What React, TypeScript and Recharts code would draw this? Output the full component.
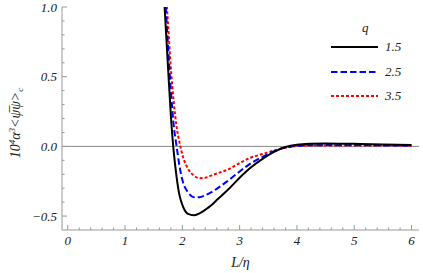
import { LineChart, Line, XAxis, YAxis, ReferenceLine } from "recharts";

// L/eta sample points shared by the three curves
const xs = [1.6, 1.65, 1.7, 1.75, 1.8, 1.85, 1.9, 1.95, 2.0, 2.1, 2.2, 2.3, 2.4, 2.5, 2.6, 2.8, 3.0, 3.2, 3.4, 3.6, 3.8, 4.0, 4.25, 4.5, 5.0, 5.5, 6.0];
const q15 = [1.65, 1.28, 0.93, 0.57, 0.22, -0.04, -0.22, -0.35, -0.42, -0.485, -0.495, -0.48, -0.455, -0.425, -0.385, -0.31, -0.225, -0.15, -0.09, -0.04, -0.005, 0.012, 0.019, 0.021, 0.018, 0.014, 0.01];
const q25 = [1.75, 1.42, 1.07, 0.72, 0.4, 0.15, 0.0, -0.14, -0.24, -0.33, -0.365, -0.365, -0.35, -0.33, -0.305, -0.245, -0.18, -0.12, -0.075, -0.035, -0.008, 0.004, 0.008, 0.009, 0.008, 0.007, 0.005];
const q35 = [1.9, 1.55, 1.2, 0.88, 0.56, 0.32, 0.14, 0.03, -0.06, -0.16, -0.21, -0.228, -0.225, -0.21, -0.195, -0.165, -0.12, -0.08, -0.055, -0.03, -0.01, 0.002, 0.006, 0.007, 0.007, 0.006, 0.005];
const qLabels = ["1.5", "2.5", "3.5"];

const xMajor = [0, 1, 2, 3, 4, 5, 6];
const yMajor = [-0.5, 0, 0.5, 1.0];

const rows = xs.map((x, i) => ({ x, a: q15[i], b: q25[i], c: q35[i] }));

const xTicks: number[] = [];
for (let i = 0; i <= 30; i++) xTicks.push(Math.round(i * 2) / 10);
const yTicks: number[] = [];
for (let i = -5; i <= 10; i++) yTicks.push(i / 10);

const frame = "#999";
const font = "Liberation Serif, DejaVu Serif, serif";
const txt = { fontFamily: font, fontStyle: "italic" as const, fontSize: 13 };

const isMajor = (v: number, list: number[]) => list.some((m) => Math.abs(m - v) < 1e-6);
const fmtY = (v: number) => (v < 0 ? "\u2212" : "") + Math.abs(v).toFixed(1);

const BottomTick = (p: any) => {
  const major = isMajor(p.payload.value, xMajor);
  return (
    <g>
      <line x1={p.x} x2={p.x} y1={p.y} y2={p.y - (major ? 5 : 2.5)} stroke={frame} />
      {major && (
        <text x={p.x} y={p.y + 15} textAnchor="middle" style={txt} fill="#222">
          {Math.round(p.payload.value)}
        </text>
      )}
    </g>
  );
};
const TopTick = (p: any) => {
  const major = isMajor(p.payload.value, xMajor);
  return <line x1={p.x} x2={p.x} y1={p.y} y2={p.y + (major ? 5 : 2.5)} stroke={frame} />;
};
const LeftTick = (p: any) => {
  const major = isMajor(p.payload.value, yMajor);
  return (
    <g>
      <line x1={p.x} x2={p.x + (major ? 5 : 2.5)} y1={p.y} y2={p.y} stroke={frame} />
      {major && (
        <text x={p.x - 5} y={p.y + 4.5} textAnchor="end" style={txt} fill="#222">
          {fmtY(p.payload.value)}
        </text>
      )}
    </g>
  );
};
const RightTick = (p: any) => {
  const major = isMajor(p.payload.value, yMajor);
  return <line x1={p.x} x2={p.x - (major ? 5 : 2.5)} y1={p.y} y2={p.y} stroke={frame} />;
};

const legendItems = [
  { label: qLabels[0], color: "#000", dash: undefined },
  { label: qLabels[1], color: "#0000ff", dash: "6.5 3" },
  { label: qLabels[2], color: "#ff0000", dash: "3 2" },
];

export default function App() {
  return (
    <div style={{ position: "fixed", left: 0, top: 0, width: 423, height: 273, background: "#fff" }}>
      <LineChart width={423} height={273} data={rows} margin={{ top: 7, right: 4, bottom: 0, left: 0 }}>
        <XAxis
          dataKey="x"
          type="number"
          domain={[-0.1, 6.13]}
          allowDataOverflow
          ticks={xTicks}
          interval={0}
          height={43}
          tickSize={0}
          tickMargin={0}
          stroke={frame}
          tick={<BottomTick />}
          label={{ value: "L/\u03b7", position: "insideBottom", offset: 6, style: { ...txt, fontSize: 14 }, fill: "#222" }}
        />
        <XAxis
          xAxisId="top"
          orientation="top"
          dataKey="x"
          type="number"
          domain={[-0.1, 6.13]}
          allowDataOverflow
          ticks={xTicks}
          interval={0}
          height={0}
          tickSize={0}
          tickMargin={0}
          stroke={frame}
          tick={<TopTick />}
        />
        <YAxis
          type="number"
          domain={[-0.6, 1.0]}
          allowDataOverflow
          ticks={yTicks}
          interval={0}
          width={62}
          tickSize={0}
          tickMargin={0}
          stroke={frame}
          tick={<LeftTick />}
        />
        <YAxis
          yAxisId="right"
          orientation="right"
          type="number"
          domain={[-0.6, 1.0]}
          allowDataOverflow
          ticks={yTicks}
          interval={0}
          width={0}
          tickSize={0}
          tickMargin={0}
          stroke={frame}
          tick={<RightTick />}
        />
        <ReferenceLine y={0} stroke="#888" strokeWidth={1} />
        <Line type="monotone" dataKey="c" stroke="#ff0000" strokeWidth={2} strokeDasharray="3 2" dot={false} isAnimationActive={false} />
        <Line type="monotone" dataKey="b" stroke="#0000ff" strokeWidth={2} strokeDasharray="6.5 3" dot={false} isAnimationActive={false} />
        <Line type="monotone" dataKey="a" stroke="#000" strokeWidth={2} dot={false} isAnimationActive={false} />
      </LineChart>
      <svg width={30} height={150} style={{ position: "absolute", left: 2, top: 45 }}>
        <text transform="translate(18,78) rotate(-90)" textAnchor="middle" style={{ ...txt, fontSize: 14 }} fill="#222">
          10<tspan dy={-5} fontSize={9}>4</tspan>
          <tspan dy={5}>{"\u03b1"}</tspan>
          <tspan dy={-5} fontSize={9}>3</tspan>
          <tspan dy={5}>{"<\u03c8\u0305\u03c8>"}</tspan>
          <tspan dy={3} fontSize={9}>c</tspan>
        </text>
      </svg>
      <div style={{ position: "absolute", left: 325, top: 20, ...txt, color: "#222" }}>
        <div style={{ position: "absolute", left: 37, top: 0 }}>q</div>
        {legendItems.map((it, i) => (
          <div key={it.label} style={{ position: "absolute", left: 0, top: 19 + i * 24.5, width: 90, height: 16 }}>
            <svg width={56} height={16} style={{ position: "absolute", left: 0, top: 0 }}>
              <line x1={6} x2={53} y1={8} y2={8} stroke={it.color} strokeWidth={2} strokeDasharray={it.dash} />
            </svg>
            <span style={{ position: "absolute", left: 60, top: 0 }}>{it.label}</span>
          </div>
        ))}
      </div>
    </div>
  );
}
